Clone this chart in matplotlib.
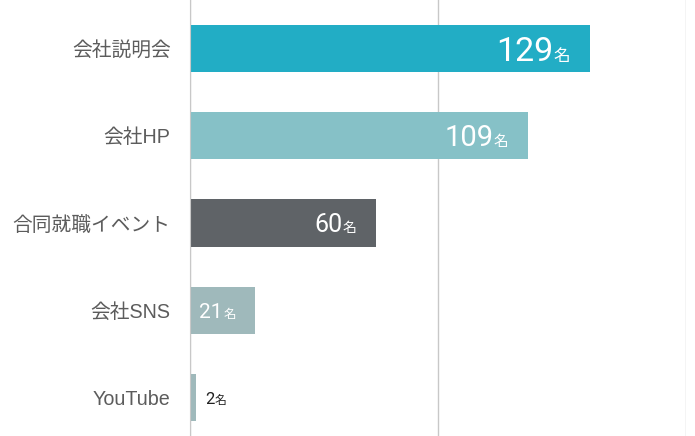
import matplotlib.pyplot as plt

plt.rcParams['font.family'] = ['Liberation Sans', 'Noto Sans CJK JP', 'DejaVu Sans']

categories = ['会社説明会', '会社HP', '合同就職イベント', '会社SNS', 'YouTube']
values = [129, 109, 60, 21, 2]
colors = ['#22adc5', '#86c1c7', '#5f6367', '#9fb9bb', '#9fb9bb']
num_sizes = [24.5, 21, 18, 15, 12]
unit_sizes = [12, 10.5, 10, 9, 8.5]
unit = '名'

fig = plt.figure(figsize=(6.95, 4.36), dpi=100)
ax = fig.add_axes([190 / 695, 0, (686 - 190) / 695, 1])

y = list(range(len(categories)))
ax.barh(y, values, height=0.54, color=colors)

ax.set_xlim(0, 160)
ax.set_ylim(4.441, -0.556)
ax.set_xticks([0, 80, 160])
ax.xaxis.grid(True, color='#c8c8c8', linewidth=1)
ax.set_axisbelow(True)
ax.tick_params(axis='x', length=0, labelbottom=False)
ax.tick_params(axis='y', length=0, pad=14, labelsize=14.2, labelcolor='#5c5c5c')
ax.set_yticks(y)
ax.set_yticklabels(categories)
for s in ['top', 'right', 'bottom']:
    ax.spines[s].set_visible(False)
ax.spines['left'].set_color('#c8c8c8')

numfont = ['Roboto', 'DejaVu Sans']
for i, v in enumerate(values):
    ns = num_sizes[i]
    us = unit_sizes[i]
    base = -0.36 * ns
    if v > 10:
        # 名 first, then number to its left
        ax.annotate(unit, (v, i), xytext=(-14, base), textcoords='offset points',
                    ha='right', va='baseline', fontsize=us, color='white',
                    family='Noto Sans CJK JP')
        ax.annotate(str(v), (v, i), xytext=(-14 - us * 1.02, base), textcoords='offset points',
                    ha='right', va='baseline', fontsize=ns, color='white',
                    family=numfont)
    else:
        ax.annotate(str(v), (v, i), xytext=(6.5, base), textcoords='offset points',
                    ha='left', va='baseline', fontsize=ns, color='#222222',
                    family=numfont)
        ax.annotate(unit, (v, i), xytext=(6.5 + ns * 0.58, base), textcoords='offset points',
                    ha='left', va='baseline', fontsize=us, color='#222222',
                    family='Noto Sans CJK JP')

fig.savefig('out.png', dpi=100)
